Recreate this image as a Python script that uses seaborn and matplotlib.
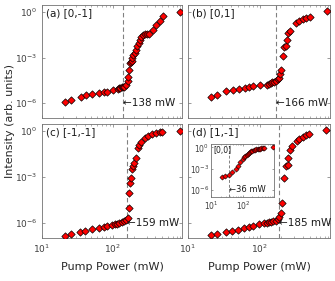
import numpy as np
import pandas as pd
import matplotlib
matplotlib.use("Agg")
import matplotlib.pyplot as plt
import matplotlib.ticker as mticker
import seaborn as sns

# ---- data (pump power in mW, intensity in arb. units) ----
pa_power = [21, 25.7, 35, 42, 51, 64, 75, 84, 102, 117, 123, 128, 134, 140, 145, 153,
            166, 166, 171, 177, 182, 186, 189, 193, 206, 213, 220, 233, 243, 251,
            265, 286, 305, 320, 369, 411, 459, 513, 885]
pa_int = [1.07e-6, 1.51e-6, 2.5e-6, 3.2e-6, 3.8e-6, 4.2e-6, 5.1e-6, 5.6e-6, 6.9e-6,
          8.9e-6, 9.3e-6, 1.0e-5, 1.05e-5, 1.1e-5, 1.17e-5, 1.45e-5,
          2.8e-5, 5.4e-5, 1.4e-4, 4.4e-4, 5.0e-4, 5.6e-4, 9.3e-4,
          1.55e-3, 2.0e-3, 3.3e-3, 5.4e-3, 8.9e-3, 1.48e-2, 2.45e-2,
          3.2e-2, 3.5e-2, 3.55e-2, 3.5e-2, 6.6e-2, 0.14, 0.27, 0.55, 1.05]

pb_power = [21.2, 25.5, 34.3, 41.7, 50.7, 63, 71.7, 81.7, 101.6,
            124, 133, 142, 150, 159, 167, 177, 185,
            191, 195, 209, 220, 229, 238, 251, 265,
            319, 355, 396, 442, 493, 850]
pb_int = [2.6e-6, 3.5e-6, 5.9e-6, 7.6e-6, 8.3e-6, 9.8e-6, 1.12e-5, 1.26e-5, 1.45e-5,
          1.62e-5, 1.86e-5, 2.1e-5, 2.3e-5, 2.5e-5, 2.95e-5, 3.6e-5, 4.7e-5,
          7.6e-5, 1.6e-4, 1.2e-3, 4.9e-3, 5.4e-3, 1.48e-2, 4.1e-2, 6.0e-2,
          0.18, 0.27, 0.35, 0.43, 0.5, 1.2]

pc_power = [20.9, 25.7, 34.9, 41, 51, 64, 74, 82,
            99, 107, 114, 123, 133, 145, 155, 166,
            171, 171, 177, 181, 187, 193, 202, 213,
            230, 238, 251, 281, 313, 361, 411, 459, 502, 885]
pc_int = [1.26e-7, 1.78e-7, 2.5e-7, 2.9e-7, 3.7e-7, 4.8e-7, 5.6e-7, 6.5e-7,
          7.2e-7, 7.9e-7, 8.7e-7, 9.8e-7, 1.12e-6, 1.32e-6, 1.51e-6, 2.1e-6,
          9.3e-6, 8.5e-5, 4.2e-4, 8.9e-4, 3.2e-3, 5.1e-3, 8.5e-3, 1.8e-2,
          8.1e-2, 0.135, 0.19, 0.36, 0.52, 0.66, 0.78, 0.85, 0.95, 1.1]

pd_power = [21.2, 25.5, 33.5, 40.7, 49, 61, 71.7, 81.7, 99,
            115, 124, 133, 142, 154, 166, 177, 185,
            195, 202, 220, 232, 245, 251, 265, 280,
            330, 355, 396, 442, 480, 830]
pd_int = [1.5e-7, 1.78e-7, 2.3e-7, 2.75e-7, 3.2e-7, 4.2e-7, 5.4e-7, 6.2e-7, 7.9e-7,
          9.3e-7, 1.02e-6, 1.07e-6, 1.12e-6, 1.26e-6, 1.38e-6, 1.7e-6, 2.5e-6,
          4.6e-6, 2.0e-5, 8.9e-4, 5.1e-3, 6.6e-3, 1.8e-2, 6.3e-2, 0.105,
          0.22, 0.29, 0.43, 0.55, 0.71, 1.15]

inset_power = [22, 28, 36, 46, 59, 71, 82, 98, 110, 120, 131, 145, 160, 170, 181,
               200, 221, 240, 263, 290, 312, 345, 380, 420, 466, 908]
inset_int = [7.4e-5, 8.3e-5, 1.4e-4, 3.0e-4, 8.7e-4, 2.5e-3, 7.4e-3, 2.1e-2, 4.5e-2,
             6.3e-2, 8.5e-2, 0.126, 0.18, 0.25, 0.31, 0.36, 0.43, 0.48, 0.52, 0.59,
             0.65, 0.69, 0.72, 0.79, 0.89, 1.26]

panel_labels = ["(a) [0,-1]", "(b) [0,1]", "(c) [-1,-1]", "(d) [1,-1]"]
thresholds = [138, 166, 159, 185]
inset_threshold = 36

sns.set_style("ticks")
plt.rcParams["font.family"] = ["DejaVu Sans"]

frame_col = "0.45"


def style_axes(ax, xlabels, ylabels, fs=6.5):
    ax.set_xscale("log")
    ax.set_yscale("log")
    ax.set_xlim(10, 950)
    ax.set_ylim(1e-7, 3)
    ax.yaxis.set_major_locator(mticker.FixedLocator([1e-6, 1e-3, 1e0]))
    ax.yaxis.set_minor_locator(mticker.NullLocator())
    ax.xaxis.set_major_locator(mticker.LogLocator(base=10))
    ax.xaxis.set_minor_locator(mticker.LogLocator(base=10, subs=np.arange(2, 10)))
    ax.xaxis.set_minor_formatter(mticker.NullFormatter())
    ax.tick_params(which="both", direction="in", top=True, right=True,
                   color=frame_col, labelsize=fs, labelcolor="0.25")
    ax.tick_params(which="major", length=2.5, width=0.5)
    ax.tick_params(which="minor", length=1.5, width=0.4)
    if not xlabels:
        ax.tick_params(labelbottom=False)
    if not ylabels:
        ax.tick_params(labelleft=False)
    for s in ax.spines.values():
        s.set_visible(True)
        s.set_color(frame_col)
        s.set_linewidth(0.6)
    ax.set_xlabel("")
    ax.set_ylabel("")


fig = plt.figure(figsize=(3.35, 2.81), dpi=100)
W, H = 335, 281
boxes = [(42, 5, 182, 118), (188, 5, 330, 118), (42, 124, 182, 238), (188, 124, 330, 238)]
datasets = [(pa_power, pa_int), (pb_power, pb_int), (pc_power, pc_int), (pd_power, pd_int)]

axes = []
for i, ((x0, y0, x1, y1), (pw, it)) in enumerate(zip(boxes, datasets)):
    ax = fig.add_axes([x0 / W, 1 - y1 / H, (x1 - x0) / W, (y1 - y0) / H])
    df = pd.DataFrame({"power": pw, "intensity": it})
    ax.axvline(thresholds[i], color="0.5", ls=(0, (4, 2.5)), lw=0.8, zorder=1)
    sns.scatterplot(data=df, x="power", y="intensity", ax=ax, marker="D", s=14,
                    color="#ff0000", edgecolor="black", linewidth=0.5, zorder=3)
    style_axes(ax, xlabels=i >= 2, ylabels=i % 2 == 0)
    ax.text(0.03, 0.97, panel_labels[i], transform=ax.transAxes, ha="left", va="top",
            fontsize=7.5, color="0.1")
    ax.text(thresholds[i] * 1.01, 1e-6, "\u2190" + f"{thresholds[i]} mW", ha="left",
            va="center", fontsize=7.5, color="0.1", zorder=4)
    axes.append(ax)

for ax in axes[2:]:
    ax.set_xlabel("Pump Power (mW)", fontsize=8, color="0.15", labelpad=5)

fig.text(0.03, 1 - 121 / H, "Intensity (arb. units)", rotation=90, ha="center",
         va="center", fontsize=8, color="0.15")

# inset in panel (d)
ix0, iy0, ix1, iy1 = 211, 144, 274, 197
axi = fig.add_axes([ix0 / W, 1 - iy1 / H, (ix1 - ix0) / W, (iy1 - iy0) / H])
dfi = pd.DataFrame({"power": inset_power, "intensity": inset_int})
axi.axvline(inset_threshold, color="0.5", ls=(0, (3, 2)), lw=0.7, zorder=1)
sns.scatterplot(data=dfi, x="power", y="intensity", ax=axi, marker="D", s=7,
                color="#ff0000", edgecolor="black", linewidth=0.4, zorder=3)
style_axes(axi, xlabels=True, ylabels=True, fs=5.5)
axi.tick_params(which="major", length=1.5)
axi.tick_params(which="minor", length=1)
axi.tick_params(axis="x", pad=2)
axi.tick_params(axis="y", pad=1.5)
axi.text(0.03, 0.96, "[0,0]", transform=axi.transAxes, ha="left", va="top",
         fontsize=5.5, color="0.1")
axi.text(inset_threshold * 1.02, 1e-6, "\u2190" + f"{inset_threshold} mW", ha="left",
         va="center", fontsize=6, color="0.1")
axi.set_facecolor("white")

fig.savefig("out.png", dpi=100)
